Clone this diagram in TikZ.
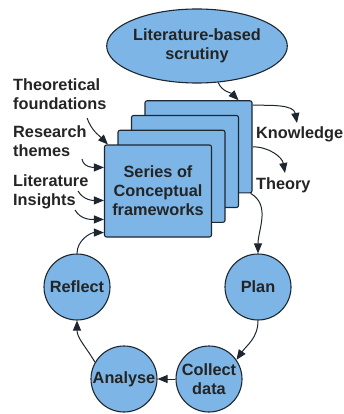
\documentclass[tikz,border=0pt]{standalone}
\usepackage{fontspec}
\setmainfont{Liberation Sans}
\usetikzlibrary{arrows.meta,shapes.geometric}
\definecolor{boxfill}{RGB}{125,182,230}
\definecolor{edge}{RGB}{30,38,48}
\definecolor{txt}{RGB}{36,36,36}
\begin{document}
\begin{tikzpicture}[x=1pt,y=1pt,
  every node/.style={font=\fontsize{16.3}{19}\selectfont\bfseries, text=txt, align=center},
  shp/.style={draw=edge, fill=boxfill, line width=1.1pt, inner sep=0pt},
  box/.style={shp, rectangle, rounded corners=2pt, minimum width=107pt, minimum height=92pt},
  ell/.style={shp, ellipse, minimum width=148pt, minimum height=74pt},
  circ/.style={shp, circle, minimum size=66pt},
  lab/.style={inner sep=0pt, align=left, anchor=west},
  arr/.style={draw=edge, line width=1pt, -{Triangle[length=10pt,width=8pt]}}
]
\useasboundingbox (0,0) rectangle (343,-414);
% nodes
\node[ell] (lit) at (197,-46) {Literature-based\\scrutiny};
\node[box] (b4) at (198.5,-146.8) {};
\node[box] (b3) at (185,-161.5) {};
\node[box] (b2) at (171.5,-176.3) {};
\node[box] (b1) at (158,-191) {Series of\\Conceptual\\frameworks};
\node[circ] (plan) at (258,-287) {Plan};
\node[circ] (ref) at (77,-287) {Reflect};
\node[circ] (ana) at (124,-379) {Analyse};
\node[circ] (col) at (209,-379) {Collect\\data};
\node[lab] (tf) at (13,-94) {Theoretical\\foundations};
\node[lab] (rt) at (13,-141) {Research\\themes};
\node[lab] (li) at (13,-192) {Literature\\Insights};
\node[lab] (kn) at (256,-134) {Knowledge};
\node[lab] (th) at (256,-185) {Theory};
% free ends
\coordinate (kend) at (297,-123);
\coordinate (tend) at (285,-173);
\coordinate (fs) at (87,-118);
\coordinate (ts) at (82,-159);
\coordinate (ls) at (78,-191);
\coordinate (is) at (75,-210);
% connectors
\draw[arr] (lit.-60) to[out=-65,in=135] ([xshift=-14pt]b4.north east);
\draw[arr] ([yshift=-5pt]b4.north east) to[out=0,in=100] (kend);
\draw[arr] (b4.east) to[out=0,in=100] (tend);
\draw[arr] ([xshift=-2pt]b4.south east) to[out=-30,in=90] (plan.north);
\draw[arr] (plan.south) to[out=-90,in=55] (col.35);
\draw[arr] (col.west) -- (ana.east);
\draw[arr] (ana.150) to[out=120,in=-90] (ref.south);
\draw[arr] (ref.north) to[out=90,in=180] ([yshift=5pt]b1.south west);
\draw[arr] (fs) to[out=-70,in=135] ([xshift=4pt]b1.north west);
\draw[arr] (ts) to[out=-80,in=180] ([yshift=-23pt]b1.north west);
\draw[arr] (ls) to[out=-60,in=180] ([yshift=-56pt]b1.north west);
\draw[arr] (is) to[out=-60,in=180] ([yshift=-75pt]b1.north west);
\end{tikzpicture}
\end{document}
